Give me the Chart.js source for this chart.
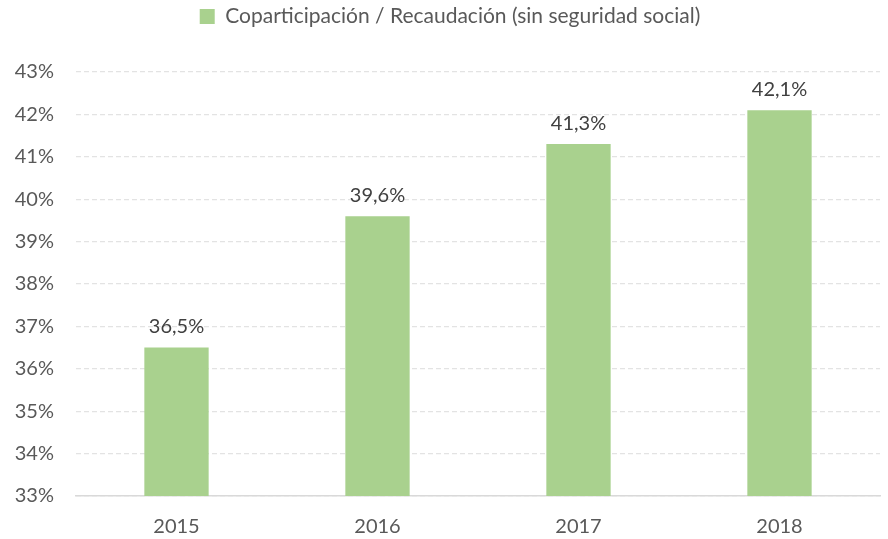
<!DOCTYPE html>
<html>
<head>
<meta charset="utf-8">
<script src="https://cdn.jsdelivr.net/npm/chart.js@4/dist/chart.umd.min.js"></script>
<style>
  html, body { margin: 0; padding: 0; background: #fff; }
  #wrap { width: 888px; height: 539px; }
</style>
</head>
<body>
<div id="wrap"><canvas id="chart" width="888" height="539"></canvas></div>
<script>
// ── DATA ──
const years  = ['2015', '2016', '2017', '2018'];
const ratio  = [36.5, 39.6, 41.3, 42.1];
const label  = 'Coparticipación / Recaudación (sin seguridad social)';

const FONT = 'Lato, "Open Sans", sans-serif';
const GREY = '#595959';

// value labels above each bar, with comma decimals
const barLabels = {
  id: 'barLabels',
  afterDatasetsDraw(chart) {
    const ctx = chart.ctx;
    const meta = chart.getDatasetMeta(0);
    ctx.save();
    ctx.font = '20px ' + FONT;
    ctx.fillStyle = '#404040';
    ctx.textAlign = 'center';
    ctx.textBaseline = 'bottom';
    meta.data.forEach((bar, i) => {
      ctx.fillText(ratio[i].toFixed(1).replace('.', ',') + '%', bar.x, bar.y - 11);
    });
    ctx.restore();
  }
};

// extra room between legend and plot, legend nudged right like the original
const legendGap = {
  id: 'legendGap',
  beforeInit(chart) {
    const fit = chart.legend.fit;
    chart.legend.fit = function () { fit.call(this); this.height += 35; };
  },
  beforeDraw(chart) {
    chart.legend.left = 20;
  }
};

new Chart(document.getElementById('chart'), {
  type: 'bar',
  data: { labels: years, datasets: [
    { label, data: ratio, backgroundColor: '#a9d18e', borderWidth: 0, barPercentage: 0.64, categoryPercentage: 0.5 }
  ]},
  options: {
    responsive: false, animation: false,
    layout: { padding: { left: 0, right: 8, top: 0, bottom: 0 } },
    plugins: {
      legend: { position: 'top',
        labels: { font: { size: 21, family: FONT }, color: GREY, boxWidth: 15, boxHeight: 15, padding: 6 } },
      tooltip: { enabled: false }
    },
    scales: {
      x: {
        afterFit: s => { s.height = 43; },
        grid: { display: false, drawTicks: false },
        border: { display: true, color: '#d9d9d9', width: 1.5 },
        ticks: { font: { size: 20, family: FONT }, color: GREY, padding: 19 }
      },
      y: {
        min: 33, max: 43,
        afterFit: s => { s.width = 76; },
        grid: { color: '#e3e3e3', lineWidth: 1.3, drawTicks: false },
        border: { display: false, dash: [5, 3] },
        ticks: { stepSize: 1, font: { size: 20, family: FONT }, color: GREY, padding: 22, callback: v => v + '%' }
      }
    }
  },
  plugins: [barLabels, legendGap]
});
</script>
</body>
</html>
